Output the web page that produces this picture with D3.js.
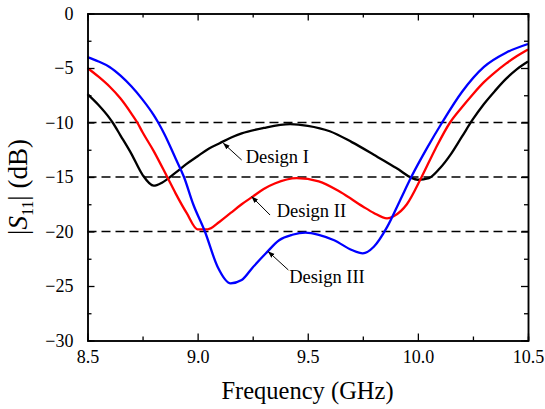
<html>
    <head>
        <meta charset='UTF-8'>
        <script src="https://d3js.org/d3.v7.min.js"></script>
        <style>
            body { margin: 0; background: #ffffff; }
            text { font-family: "Liberation Serif", "Times New Roman", serif; fill: #000; }
        </style>
    </head>
    <body>
        <svg id="chart" width="545" height="409"></svg>
        <script>
            // readings: frequency (GHz) and |S11| (dB)
            let freqI = [8.50, 8.55, 8.60, 8.614, 8.65, 8.70, 8.75, 8.80, 8.84, 8.90, 8.95, 9.00, 9.05, 9.10, 9.15, 9.20, 9.30, 9.42, 9.50, 9.60, 9.70, 9.80, 9.90, 10.00, 10.05, 10.10, 10.15, 10.20, 10.25, 10.30, 10.35, 10.40, 10.45, 10.50]
            let s11I = [-7.4, -8.4, -9.6, -10.0, -11.2, -12.9, -14.8, -15.8, -15.5, -14.6, -13.8, -13.1, -12.4, -11.9, -11.4, -11.0, -10.5, -10.15, -10.3, -10.8, -11.8, -12.95, -14.15, -15.25, -15.1, -14.2, -12.9, -11.3, -9.7, -8.3, -7.1, -6.0, -5.1, -4.4]

            let freqII = [8.50, 8.55, 8.60, 8.65, 8.70, 8.726, 8.75, 8.80, 8.862, 8.90, 8.95, 9.00, 9.045, 9.10, 9.15, 9.20, 9.25, 9.30, 9.35, 9.45, 9.55, 9.65, 9.75, 9.80, 9.86, 9.89, 9.95, 10.017, 10.08, 10.146, 10.20, 10.25, 10.30, 10.35, 10.40, 10.45, 10.50]
            let s11II = [-5.0, -5.8, -6.7, -7.8, -9.2, -10.0, -10.9, -12.6, -15.0, -16.5, -18.3, -19.8, -19.8, -19.1, -18.3, -17.5, -16.8, -16.1, -15.6, -15.1, -15.4, -16.4, -17.7, -18.3, -18.8, -18.6, -17.5, -15.0, -12.4, -10.0, -8.6, -7.4, -6.3, -5.4, -4.6, -3.9, -3.3]

            let freqIII = [8.50, 8.55, 8.60, 8.65, 8.70, 8.75, 8.80, 8.821, 8.85, 8.90, 8.938, 8.98, 9.033, 9.09, 9.15, 9.20, 9.25, 9.31, 9.37, 9.43, 9.49, 9.55, 9.62, 9.70, 9.75, 9.80, 9.86, 9.92, 9.97, 10.04, 10.11, 10.20, 10.30, 10.40, 10.50]
            let s11III = [-4.0, -4.4, -4.9, -5.7, -6.7, -7.9, -9.3, -10.0, -11.1, -13.3, -15.0, -17.5, -20.0, -23.2, -24.75, -24.45, -23.3, -22.0, -20.8, -20.3, -20.1, -20.3, -20.8, -21.7, -22.0, -21.4, -19.6, -17.1, -15.0, -12.4, -10.0, -7.2, -4.9, -3.6, -2.8]

            let designNames = ['Design I', 'Design II', 'Design III']
            let designColors = ['#000000', '#ff0000', '#0000ff']

            // reference levels drawn dashed
            let refLevels = [-10, -15, -20]

            // annotations: arrow tip, arrow tail, text anchor (data coords)
            let arrowTips = [[9.117, -11.91], [9.246, -16.81], [9.321, -21.85]]
            let arrowTails = [[9.200, -13.44], [9.329, -18.49], [9.412, -23.53]]
            let labelSpots = [[9.218, -13.69], [9.359, -18.70], [9.416, -24.75]]

            let xTicks = [8.5, 9.0, 9.5, 10.0, 10.5]
            let xMinor = [8.75, 9.25, 9.75, 10.25]
            let yTicks = [0, -5, -10, -15, -20, -25, -30]
            let yMinor = [-2.5, -7.5, -12.5, -17.5, -22.5, -27.5]

            let svg = d3.select('svg#chart')

            let plotL = 87.5, plotR = 528, plotT = 13.5, plotB = 340.5
            let x = d3.scaleLinear().domain([8.5, 10.5]).range([plotL, plotR])
            let y = d3.scaleLinear().domain([0, -30]).range([plotT, plotB])

            // dashed reference lines
            refLevels.forEach(v => {
                svg.append('line')
                   .attr('x1', plotL).attr('x2', plotR)
                   .attr('y1', y(v)).attr('y2', y(v))
                   .attr('stroke', '#000').attr('stroke-width', 1.5)
                   .attr('stroke-dasharray', '9,5')
            })

            // curves
            let series = [[freqI, s11I], [freqII, s11II], [freqIII, s11III]]
            let line = d3.line().x(d => x(d[0])).y(d => y(d[1])).curve(d3.curveMonotoneX)
            series.forEach((s, i) => {
                let pts = s[0].map((f, k) => [f, s[1][k]])
                svg.append('path')
                   .attr('d', line(pts))
                   .attr('fill', 'none')
                   .attr('stroke', designColors[i])
                   .attr('stroke-width', 2.3)
                   .attr('stroke-linejoin', 'round')
            })

            // axes, ticks pointing inward on all four sides
            svg.append('g').attr('transform', `translate(0,${plotB})`)
               .call(d3.axisBottom(x).tickValues(xTicks).tickSizeInner(-7).tickSizeOuter(0).tickPadding(10).tickFormat(d3.format('.1f')))
            svg.append('g').attr('transform', `translate(0,${plotT})`)
               .call(d3.axisTop(x).tickValues(xTicks).tickSizeInner(-7).tickSizeOuter(0).tickFormat(''))
            svg.append('g').attr('transform', `translate(${plotL},0)`)
               .call(d3.axisLeft(y).tickValues(yTicks).tickSizeInner(-7).tickSizeOuter(0).tickPadding(14).tickFormat(d3.format('d')))
            svg.append('g').attr('transform', `translate(${plotR},0)`)
               .call(d3.axisRight(y).tickValues(yTicks).tickSizeInner(-7).tickSizeOuter(0).tickFormat(''))

            // minor ticks
            svg.append('g').attr('transform', `translate(0,${plotB})`)
               .call(d3.axisBottom(x).tickValues(xMinor).tickSize(-4).tickFormat(''))
            svg.append('g').attr('transform', `translate(0,${plotT})`)
               .call(d3.axisTop(x).tickValues(xMinor).tickSize(-4).tickFormat(''))
            svg.append('g').attr('transform', `translate(${plotL},0)`)
               .call(d3.axisLeft(y).tickValues(yMinor).tickSize(-4).tickFormat(''))
            svg.append('g').attr('transform', `translate(${plotR},0)`)
               .call(d3.axisRight(y).tickValues(yMinor).tickSize(-4).tickFormat(''))

            svg.selectAll('.domain').attr('stroke', '#000').attr('stroke-width', 1.5)
            svg.selectAll('.tick line').attr('stroke', '#000').attr('stroke-width', 1.3)
            svg.selectAll('.tick text').style('font-family', '"Liberation Serif", serif').style('font-size', '18px').attr('fill', '#000')

            // arrowhead marker
            svg.append('defs').append('marker')
               .attr('id', 'head').attr('viewBox', '0 0 10 10')
               .attr('refX', 9).attr('refY', 5)
               .attr('markerWidth', 7).attr('markerHeight', 7)
               .attr('orient', 'auto')
               .append('path').attr('d', 'M0,1.5 L10,5 L0,8.5 Z').attr('fill', '#000')

            // annotations
            designNames.forEach((name, i) => {
                svg.append('line')
                   .attr('x1', x(arrowTails[i][0])).attr('y1', y(arrowTails[i][1]))
                   .attr('x2', x(arrowTips[i][0])).attr('y2', y(arrowTips[i][1]))
                   .attr('stroke', '#000').attr('stroke-width', 1)
                   .attr('marker-end', 'url(#head)')
                svg.append('text')
                   .attr('x', x(labelSpots[i][0])).attr('y', y(labelSpots[i][1]))
                   .style('font-size', '18.5px')
                   .text(name)
            })

            // axis titles
            svg.append('text')
               .attr('x', 307.5).attr('y', 399)
               .attr('text-anchor', 'middle')
               .style('font-size', '24.5px')
               .text('Frequency (GHz)')

            let yt = svg.append('text')
               .attr('transform', 'translate(27,187) rotate(-90)')
               .attr('text-anchor', 'middle')
               .style('font-size', '27px')
            yt.append('tspan').text('|')
            yt.append('tspan').style('font-style', 'italic').text('S')
            yt.append('tspan').attr('dy', 6).style('font-size', '16px').text('11')
            yt.append('tspan').attr('dy', -6).text('| (dB)')
        </script>
    </body>
</html>
